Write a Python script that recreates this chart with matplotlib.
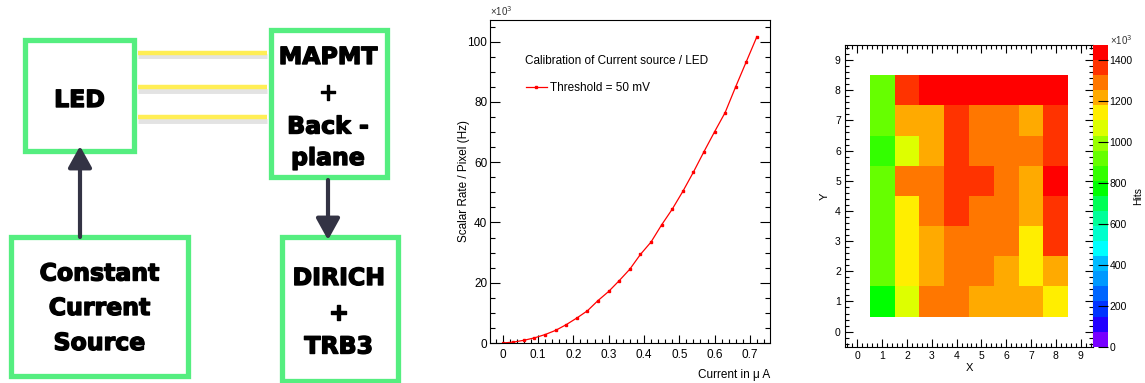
import matplotlib
matplotlib.use("Agg")
import matplotlib.pyplot as plt
import matplotlib.patheffects as pe
import numpy as np
from matplotlib.colors import ListedColormap, Normalize
from matplotlib.patches import Rectangle

plt.rcParams['font.family'] = ['Liberation Sans', 'DejaVu Sans']

# calibration curve: current (uA) vs scalar rate per pixel (x10^3 Hz)
current = [0.00, 0.03, 0.06, 0.09, 0.12, 0.15, 0.18, 0.21, 0.24, 0.27, 0.30, 0.33, 0.36,
           0.39, 0.42, 0.45, 0.48, 0.51, 0.54, 0.57, 0.60, 0.63, 0.66, 0.69, 0.72]
rate_k = [0.0, 0.3, 0.9, 1.7, 2.8, 4.2, 6.1, 8.3, 10.7, 14.1, 17.1, 20.7, 24.5,
          29.4, 33.5, 39.2, 44.4, 50.3, 56.7, 63.5, 70.1, 76.5, 85.1, 93.4, 101.7]

# hit map (x10^3 hits), rows y=1..8, columns x=1..8
pix_x = [1, 2, 3, 4, 5, 6, 7, 8]
pix_y = [1, 2, 3, 4, 5, 6, 7, 8]
hits_k = [
    [773, 1067, 1288, 1288, 1214, 1214, 1214, 1141],
    [920, 1141, 1214, 1288, 1288, 1214, 1141, 1214],
    [920, 1141, 1214, 1288, 1288, 1288, 1141, 1361],
    [920, 1141, 1288, 1361, 1288, 1288, 1214, 1361],
    [920, 1288, 1288, 1361, 1361, 1288, 1214, 1435],
    [846, 1067, 1214, 1361, 1288, 1288, 1288, 1361],
    [920, 1214, 1214, 1361, 1288, 1288, 1214, 1361],
    [920, 1361, 1435, 1435, 1435, 1435, 1435, 1435],
]
hits_max = 1472

palette = ['#7700ff', '#2200ff', '#0033ff', '#0066ff', '#0099ff', '#00bbff', '#00ffff',
           '#00ffcc', '#00ff99', '#00ff55', '#00ff00', '#33ff00', '#66ff00', '#99ff00',
           '#ddff00', '#ffee00', '#ffaa00', '#ff7700', '#ff3300', '#ff0000']

fig = plt.figure(figsize=(11.45, 3.83), dpi=100)

# ---------------- block diagram ----------------
axd = fig.add_axes([0, 0, 420 / 1145, 1])
axd.set_xlim(0, 420)
axd.set_ylim(383, 0)
axd.axis('off')

green = '#55ee80'
boxes = [(25, 39.5, 109, 111), (270.5, 29.5, 116, 147),
         (10.5, 236.5, 177.5, 139), (281.5, 236.5, 116, 144)]
for bx, by, bw, bh in boxes:
    axd.add_patch(Rectangle((bx, by), bw, bh, fill=False, ec=green, lw=3.8))

for yy in [52.7, 87.3, 117.3]:
    axd.plot([138, 267], [yy + 3.5, yy + 3.5], color='#dcdcdc', lw=3.5, solid_capstyle='butt', alpha=0.8)
    axd.plot([138, 267], [yy, yy], color='#ffee55', lw=3.2, solid_capstyle='butt')

arrow_kw = dict(arrowstyle='-|>,head_length=0.65,head_width=0.36', color='#333344',
                lw=3, mutation_scale=20, shrinkA=0, shrinkB=0)
axd.annotate('', xy=(80, 146), xytext=(80, 237), arrowprops=arrow_kw)
axd.annotate('', xy=(328, 240), xytext=(328, 180), arrowprops=arrow_kw)

heavy = [pe.withStroke(linewidth=1.0, foreground='black')]
tkw = dict(family='DejaVu Sans', weight='bold', fontsize=17, ha='center', va='baseline',
           color='black', path_effects=heavy)
axd.text(79.5, 107, 'LED', **tkw)
for s, yb in [('MAPMT', 64), ('+', 99.5), ('Back -', 133.5), ('plane', 165)]:
    axd.text(328, yb, s, **tkw)
for s, yb in [('Constant', 280.5), ('Current', 315), ('Source', 350)]:
    axd.text(99.5, yb, s, **tkw)
for s, yb in [('DIRICH', 285), ('+', 320), ('TRB3', 353.5)]:
    axd.text(338.7, yb, s, **tkw)

# ---------------- calibration curve ----------------
ax = fig.add_axes([490 / 1145, 1 - 343 / 383, 280 / 1145, 323 / 383])
ax.plot(current, rate_k, color='red', lw=0.9, marker='s', ms=2.0, label='Threshold = 50 mV')
ax.set_xlim(-0.036, 0.757)
ax.set_ylim(0, 107.2)
ax.set_xticks(np.arange(0, 0.75, 0.1))
ax.set_xticklabels(['0', '0.1', '0.2', '0.3', '0.4', '0.5', '0.6', '0.7'])
ax.set_xticks(np.arange(-0.02, 0.76, 0.02), minor=True)
ax.set_yticks([0, 20, 40, 60, 80, 100])
ax.set_yticks(np.arange(0, 107, 5), minor=True)
ax.tick_params(which='both', direction='in', labelsize=8.5, right=True, width=0.8)
ax.tick_params(axis='y', which='major', length=7, pad=2)
ax.tick_params(axis='y', which='minor', length=3.5)
ax.tick_params(axis='x', which='major', length=6, pad=4)
ax.tick_params(axis='x', which='minor', length=3)
for sp in ax.spines.values():
    sp.set_linewidth(0.8)
ax.text(-0.093, 0.5, 'Scalar Rate / Pixel (Hz)', transform=ax.transAxes, rotation=90,
        ha='center', va='center', fontsize=8.5)
ax.text(1.0, -0.099, 'Current in \u03bc A', transform=ax.transAxes, ha='right', va='center', fontsize=8.5)
ax.text(0.0, 1.005, '\u00d710$^3$', transform=ax.transAxes, ha='left', va='bottom', fontsize=7, color='#333333')
ax.text(0.125, 0.874, 'Calibration of Current source / LED', transform=ax.transAxes,
        ha='left', va='center', fontsize=8.5)
ax.legend(loc='center left', bbox_to_anchor=(0.1286, 0.789), frameon=False, fontsize=8.5,
          borderpad=0, borderaxespad=0, handlelength=1.75, handletextpad=0.3)

# ---------------- hit map ----------------
axh = fig.add_axes([845 / 1145, 1 - 346.7 / 383, 248 / 1145, 301.7 / 383])
xe = np.append(np.array(pix_x) - 0.5, pix_x[-1] + 0.5)
ye = np.append(np.array(pix_y) - 0.5, pix_y[-1] + 0.5)
cmap = ListedColormap(palette)
mesh = axh.pcolormesh(xe, ye, np.array(hits_k), cmap=cmap, norm=Normalize(0, hits_max))
axh.set_xlim(-0.5, 9.5)
axh.set_ylim(-0.5, 9.5)
axh.set_xticks(range(10))
axh.set_yticks(range(10))
axh.set_xticks(np.arange(-0.4, 9.5, 0.2), minor=True)
axh.set_yticks(np.arange(-0.4, 9.5, 0.2), minor=True)
axh.tick_params(which='both', direction='in', top=True, right=True, labelsize=7.5, width=0.8)
axh.tick_params(which='major', length=6, pad=3)
axh.tick_params(which='minor', length=3)
for sp in axh.spines.values():
    sp.set_linewidth(0.8)
axh.text(0.5, -0.07, 'X', transform=axh.transAxes, ha='center', va='center', fontsize=8)
axh.text(-0.081, 0.5, 'Y', transform=axh.transAxes, ha='center', va='center', fontsize=8, rotation=90)

cax = fig.add_axes([1093 / 1145, 1 - 346.7 / 383, 15 / 1145, 301.7 / 383])
cb = fig.colorbar(mesh, cax=cax)
cb.set_ticks([0, 200, 400, 600, 800, 1000, 1200, 1400])
cb.ax.tick_params(direction='in', length=7, width=0.8, labelsize=7.5, pad=1)
cb.outline.set_linewidth(0)
fig.text(1110 / 1145, 1 - 40 / 383, '\u00d710$^3$', ha='left', va='center', fontsize=7, color='#333333')
fig.text(1138 / 1145, 1 - 196 / 383, 'Hits', ha='center', va='center', fontsize=7.5, rotation=90)

fig.savefig('out.png', dpi=100)
